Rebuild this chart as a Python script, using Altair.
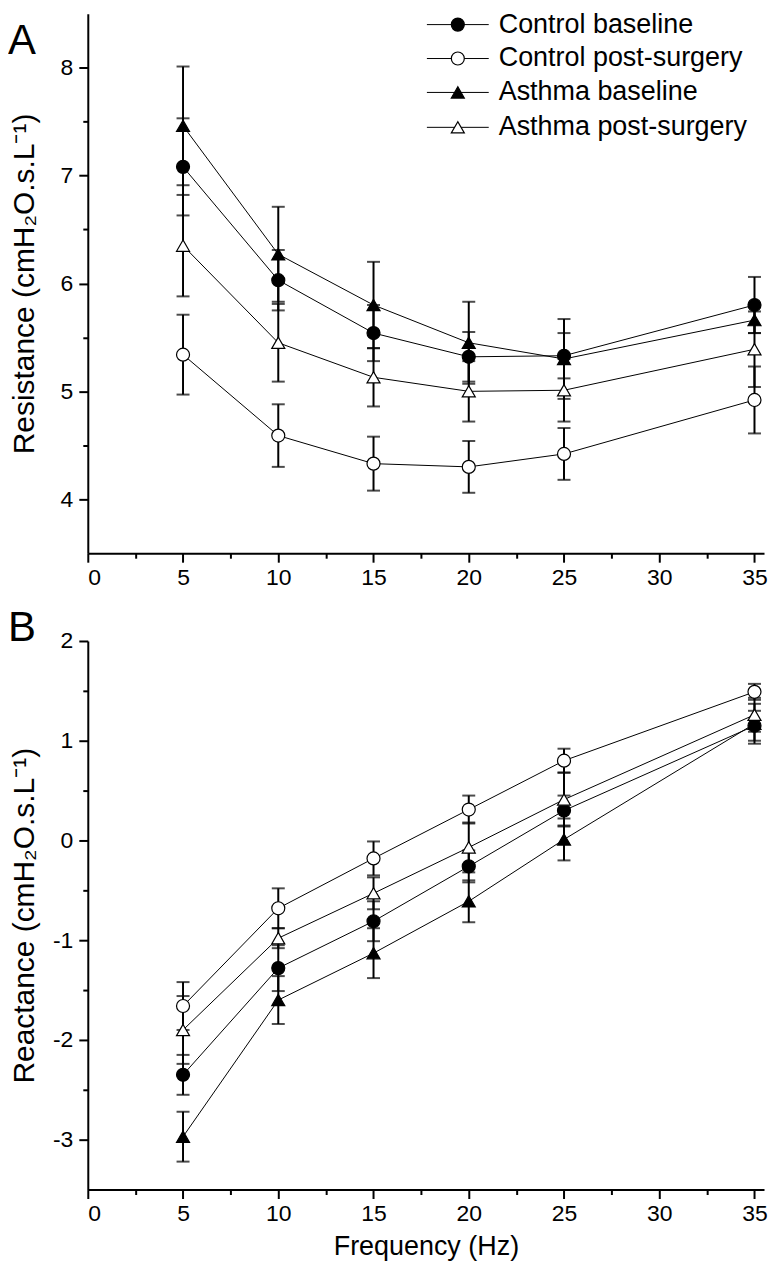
import altair as alt
import pandas as pd

FONT = "Liberation Sans"

freq = [5, 10, 15, 20, 25, 35]
series = ["Control baseline", "Control post-surgery", "Asthma baseline", "Asthma post-surgery"]
shapes = ["circle", "circle", "triangle-up", "triangle-up"]
fills = ["black", "white", "black", "white"]

# Panel A: Resistance
res_cb = [7.08, 6.03, 5.54, 5.32, 5.33, 5.80]
res_cb_se = [0.45, 0.28, 0.26, 0.23, 0.21, 0.26]
res_cp = [5.34, 4.59, 4.33, 4.30, 4.42, 4.92]
res_cp_se = [0.37, 0.29, 0.25, 0.24, 0.24, 0.31]
res_ab = [7.46, 6.27, 5.80, 5.45, 5.30, 5.66]
res_ab_se = [0.55, 0.44, 0.40, 0.38, 0.37, 0.12]
res_ap = [6.35, 5.45, 5.13, 5.00, 5.01, 5.39]
res_ap_se = [0.47, 0.36, 0.27, 0.28, 0.29, 0.35]

# Panel B: Reactance
rea_cb = [-2.35, -1.28, -0.81, -0.26, 0.30, 1.15]
rea_cb_se = [0.20, 0.23, 0.20, 0.16, 0.15, 0.15]
rea_cp = [-1.66, -0.68, -0.18, 0.31, 0.80, 1.49]
rea_cp_se = [0.24, 0.20, 0.17, 0.14, 0.12, 0.08]
rea_ab = [-2.97, -1.60, -1.13, -0.61, 0.01, 1.17]
rea_ab_se = [0.25, 0.24, 0.25, 0.21, 0.21, 0.20]
rea_ap = [-1.90, -0.98, -0.53, -0.07, 0.41, 1.26]
rea_ap_se = [0.34, 0.10, 0.16, 0.25, 0.27, 0.17]

x_major = [0, 5, 10, 15, 20, 25, 30, 35]
x_minor = [2.5, 7.5, 12.5, 17.5, 22.5, 27.5, 32.5]
resA_major = [4, 5, 6, 7, 8]
resA_minor = [4.5, 5.5, 6.5, 7.5]
reaB_major = [-3, -2, -1, 0, 1, 2]
reaB_minor = [-2.5, -1.5, -0.5, 0.5, 1.5]


def make_df(means, ses):
    rows = []
    for s, m, e in zip(series, means, ses):
        for f, v, se in zip(freq, m, e):
            rows.append(dict(series=s, freq=f, value=v, lo=v - se, hi=v + se))
    return pd.DataFrame(rows)


dfA = make_df([res_cb, res_cp, res_ab, res_ap], [res_cb_se, res_cp_se, res_ab_se, res_ap_se])
dfB = make_df([rea_cb, rea_cp, rea_ab, rea_ap], [rea_cb_se, rea_cp_se, rea_ab_se, rea_ap_se])

shape_scale = alt.Scale(domain=series, range=shapes)
fill_scale = alt.Scale(domain=series, range=fills)

axis_common = dict(
    domainColor="black", domainWidth=2, tickColor="black", tickWidth=2,
    labelFont=FONT, labelFontSize=23, labelColor="black",
    titleFont=FONT, titleColor="black", titleFontWeight="normal", grid=False,
)
HYPHEN = "datum.value < 0 ? '-' + abs(datum.value) : '' + datum.value"

W = 678


def panel(df, ytitle, ydom, ymaj, ymin, h, letter, letter_y, xtitle, legend):
    xscale = alt.Scale(domain=[0, 35.5], nice=False, zero=False)
    yscale = alt.Scale(domain=ydom, nice=False, zero=False)
    if xtitle:
        xmaj_axis = alt.Axis(values=x_major, tickSize=9, labelPadding=4, title="Frequency (Hz)",
                             titleFontSize=27, titlePadding=8, orient="bottom", **axis_common)
    else:
        xmaj_axis = alt.Axis(values=x_major, tickSize=9, labelPadding=4, title=None,
                             orient="bottom", **axis_common)
    xmin_axis = alt.Axis(values=x_minor, tickSize=5, labels=False, domain=False, title=None,
                         orient="bottom", tickColor="black", tickWidth=2, grid=False)
    ymaj_axis = alt.Axis(values=ymaj, tickSize=9, labelPadding=6, title=ytitle, titleFontSize=30,
                         titleAngle=270, titleX=-48, titleY=h / 2, titleAlign="center",
                         titleBaseline="bottom", orient="left", labelExpr=HYPHEN, **axis_common)
    ymin_axis = alt.Axis(values=ymin, tickSize=5, labels=False, domain=False, title=None,
                         orient="left", tickColor="black", tickWidth=2, grid=False)

    base = alt.Chart(df)
    lines = base.mark_line(color="black", strokeWidth=1).encode(
        x=alt.X("freq:Q", scale=xscale, axis=xmaj_axis),
        y=alt.Y("value:Q", scale=yscale, axis=ymaj_axis),
        detail="series:N",
    )
    minor = base.mark_point(opacity=0).encode(
        x=alt.X("freq:Q", scale=xscale, axis=xmin_axis),
        y=alt.Y("value:Q", scale=yscale, axis=ymin_axis),
    )
    bars = base.mark_rule(color="black", strokeWidth=2).encode(
        x=alt.X("freq:Q", scale=xscale, axis=None),
        y=alt.Y("lo:Q", scale=yscale, axis=None),
        y2="hi:Q",
    )
    cap_lo = base.mark_tick(orient="horizontal", size=13, thickness=2, color="black").encode(
        x=alt.X("freq:Q", scale=xscale, axis=None),
        y=alt.Y("lo:Q", scale=yscale, axis=None),
    )
    cap_hi = base.mark_tick(orient="horizontal", size=13, thickness=2, color="black").encode(
        x=alt.X("freq:Q", scale=xscale, axis=None),
        y=alt.Y("hi:Q", scale=yscale, axis=None),
    )
    pts = base.mark_point(filled=True, size=170, stroke="black", strokeWidth=1.2, opacity=1).encode(
        x=alt.X("freq:Q", scale=xscale, axis=None),
        y=alt.Y("value:Q", scale=yscale, axis=None),
        shape=alt.Shape("series:N", scale=shape_scale, legend=None),
        fill=alt.Fill("series:N", scale=fill_scale, legend=None),
    )
    layers = [lines, bars, cap_lo, cap_hi, pts, minor]

    lab = alt.Chart(pd.DataFrame({"t": [letter]})).mark_text(
        font=FONT, fontSize=42, align="left", baseline="alphabetic", color="black"
    ).encode(x=alt.value(-80), y=alt.value(letter_y), text="t:N")
    layers.append(lab)

    if legend:
        rows_y = [11, 45, 79, 114]
        for s, yy in zip(series, rows_y):
            ld = pd.DataFrame({"series": [s], "label": [s]})
            lc = alt.Chart(ld)
            layers.append(lc.mark_rule(color="black", strokeWidth=1).encode(
                x=alt.value(340), x2=alt.value(402), y=alt.value(yy)))
            layers.append(lc.mark_point(filled=True, size=170, stroke="black", strokeWidth=1.2,
                                        opacity=1).encode(
                x=alt.value(371), y=alt.value(yy),
                shape=alt.Shape("series:N", scale=shape_scale, legend=None),
                fill=alt.Fill("series:N", scale=fill_scale, legend=None)))
            layers.append(lc.mark_text(font=FONT, fontSize=27, align="left", baseline="middle",
                                       color="black").encode(
                x=alt.value(412), y=alt.value(yy), text="label:N"))

    return alt.layer(*layers).resolve_axis(x="independent", y="independent").properties(
        width=W, height=h)


pA = panel(dfA, "Resistance (cmH₂O.s.L⁻¹)", [3.5, 8.5], resA_major, resA_minor, 541, "A", 40, False, True)
pB = panel(dfB, "Reactance (cmH₂O.s.L⁻¹)", [-3.5, 2], reaB_major, reaB_minor, 550, "B", 0, True, False)

chart = alt.vconcat(pA, pB, spacing=18).properties(
    padding={"left": 0, "top": 1, "right": 0, "bottom": 0}
).configure_view(stroke=None)

chart.save("out.html", embed_options={"renderer": "svg", "actions": False})
